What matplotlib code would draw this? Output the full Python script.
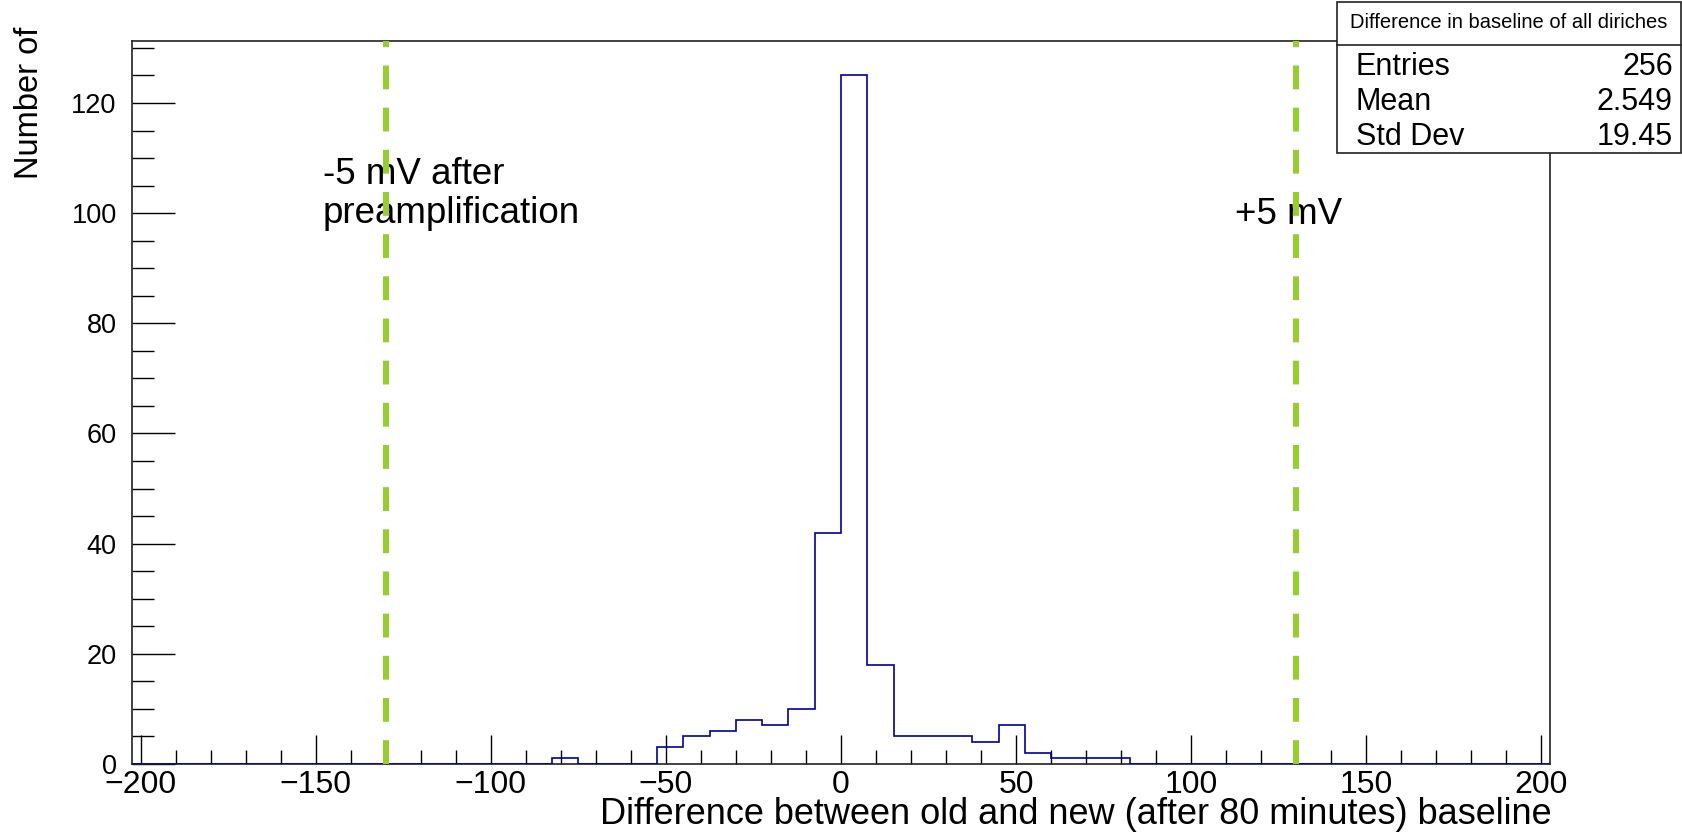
import numpy as np
import matplotlib.pyplot as plt
from matplotlib.patches import Rectangle
from matplotlib.lines import Line2D
from matplotlib.ticker import MultipleLocator

plt.rcParams['font.family'] = ['Liberation Sans', 'DejaVu Sans']

# histogram binning (ROOT TH1: 54 bins on [-202.5, 202.5])
x_min, x_max, n_bins = -202.5, 202.5, 54
counts = [0, 0, 0, 0, 0, 0, 0, 0, 0, 0, 0, 0, 0, 0, 0, 0,
          1, 0, 0, 0,
          3, 5, 6, 8, 7, 10, 42, 125, 18, 5, 5, 5, 4, 7, 2, 1, 1, 1,
          0, 0, 0, 0, 0, 0, 0, 0, 0, 0, 0, 0, 0, 0, 0, 0]
limits = [-130, 130]  # +-5 mV after preamplification

stat_title = "Difference in baseline of all diriches"
stat_names = ["Entries", "Mean", "Std Dev"]
stat_values = ["256", "2.549", "19.45"]

W, H = 1683, 836
fig = plt.figure(figsize=(W / 100, H / 100), dpi=100)
ax = fig.add_axes([132 / W, 1 - 764 / H, 1418 / W, 723 / H])

edges = np.linspace(x_min, x_max, n_bins + 1)
ax.stairs(counts, edges, baseline=0, color='#000099', lw=1.2, zorder=3)

for xv in limits:
    ax.plot([xv, xv], [0, 131.25], color='#99cc33', lw=4.4,
            linestyle=(0, (3.9, 3.0)), solid_capstyle='butt',
            dash_capstyle='butt', zorder=5)

ax.text(-148, 105.3, "-5 mV after", fontsize=26.5, zorder=4)
ax.text(-148, 98.3, "preamplification", fontsize=26.5, zorder=4)
ax.text(112.5, 98.0, "+5 mV", fontsize=26.5, zorder=4)

ax.set_xlim(x_min, x_max)
ax.set_ylim(0, 131.25)
ax.xaxis.set_major_locator(MultipleLocator(50))
ax.xaxis.set_minor_locator(MultipleLocator(10))
ax.yaxis.set_major_locator(MultipleLocator(20))
ax.yaxis.set_minor_locator(MultipleLocator(5))
ax.tick_params(axis='x', which='major', direction='in', length=21, width=1, labelsize=23, pad=4)
ax.tick_params(axis='x', which='minor', direction='in', length=10, width=1)
ax.tick_params(axis='y', which='major', direction='in', length=31, width=1, labelsize=19.5, pad=11)
ax.tick_params(axis='y', which='minor', direction='in', length=16, width=1)
for s in ax.spines.values():
    s.set_linewidth(1.2)
    s.set_color('#222222')

fig.text(1552 / W, 1 - 824 / H, "Difference between old and new (after 80 minutes) baseline",
         fontsize=26, ha='right', va='baseline')
fig.text(30 / W, 1 - 27 / H, "Number of", fontsize=23.5, rotation=90,
         ha='center', va='top')

# stats box
bx0, bx1, by0, by1, bsep = 1337, 1681, 2, 153, 44.7
fig.add_artist(Rectangle((bx0 / W, 1 - by1 / H), (bx1 - bx0) / W, (by1 - by0) / H,
                         transform=fig.transFigure, facecolor='white',
                         edgecolor='#222222', lw=1.2, zorder=10))
fig.add_artist(Line2D([bx0 / W, bx1 / W], [1 - bsep / H, 1 - bsep / H],
                      transform=fig.transFigure, color='#222222', lw=1.2, zorder=11))
fig.text((bx0 + bx1) / 2 / W, 1 - 23 / H, stat_title, fontsize=14.5,
         ha='center', va='center', zorder=12)
for i, (n, v) in enumerate(zip(stat_names, stat_values)):
    yb = 1 - (75 + 35 * i) / H
    fig.text(1356 / W, yb, n, fontsize=22, ha='left', va='baseline', zorder=12)
    fig.text(1673 / W, yb, v, fontsize=22, ha='right', va='baseline', zorder=12)

fig.savefig('out.png', dpi=100)
